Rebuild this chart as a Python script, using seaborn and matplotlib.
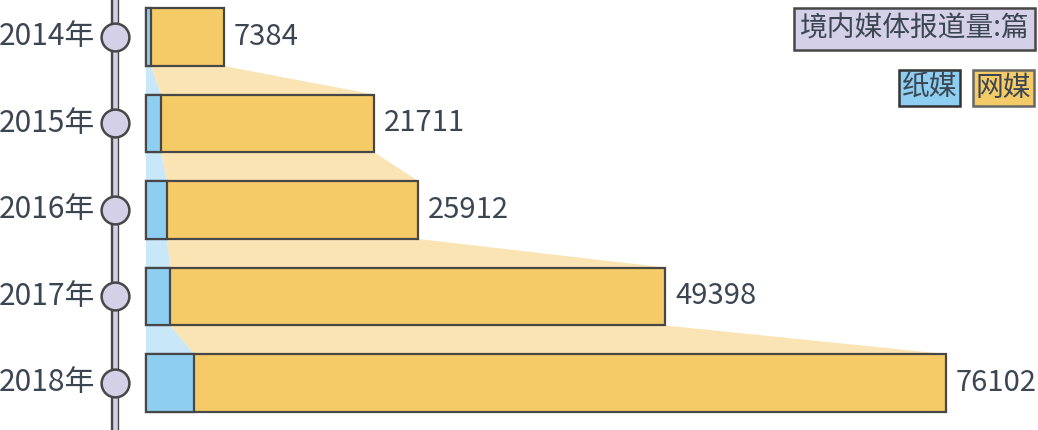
import numpy as np
import pandas as pd
import matplotlib
matplotlib.use("Agg")
import matplotlib.pyplot as plt
import seaborn as sns

# --- datos ---
years = ["2014年", "2015年", "2016年", "2017年", "2018年"]
total = [7384, 21711, 25912, 49398, 76102]
paper = [480, 1430, 2000, 2280, 4570]   # estimado desde la imagen

# --- estilo ---
sns.set_style("white")
plt.rcParams['font.family'] = ['Noto Sans CJK SC', 'DejaVu Sans']

C_WEB = "#f5cb67"
C_PAPER = "#8ecff1"
C_WEB_LIGHT = "#fae4b3"
C_PAPER_LIGHT = "#c8e7f8"
C_EDGE = "#474747"
C_TEXT = "#3b4652"
C_LAV = "#d4d0e8"

df = pd.DataFrame({"year": years, "total": total, "paper": paper})

fig = plt.figure(figsize=(10.38, 4.30), dpi=100)
ax = fig.add_axes([0, 0, 1, 1])

BAR_W = 0.67
sns.barplot(data=df, x="total", y="year", orient="h", color=C_WEB, width=BAR_W,
            edgecolor=C_EDGE, linewidth=1.6, saturation=1, ax=ax, zorder=3)
sns.barplot(data=df, x="paper", y="year", orient="h", color=C_PAPER, width=BAR_W,
            edgecolor=C_EDGE, linewidth=1.6, saturation=1, ax=ax, zorder=4)

# --- conectores entre barras ---
h = BAR_W / 2
for i in range(len(years) - 1):
    yb = i + h
    yt = i + 1 - h
    ax.fill([paper[i], total[i], total[i + 1], paper[i + 1]], [yb, yb, yt, yt],
            color=C_WEB_LIGHT, lw=0, zorder=1)
    ax.fill([0, paper[i], paper[i + 1], 0], [yb, yb, yt, yt],
            color=C_PAPER_LIGHT, lw=0, zorder=1)

# --- etiquetas de valor ---
for i, v in enumerate(total):
    ax.annotate(f"{v}", (v, i), xytext=(7, 0), textcoords="offset points",
                ha="left", va="center", fontsize=21, color=C_TEXT)

# escala: 0 -> 146 px, max -> 946 px
k = max(total) / 800
ax.set_xlim(-146 * k, (1038 - 146) * k)
sp = 86.5
ax.set_ylim((430 - 37) / sp, -37 / sp)
ax.axis("off")

# --- línea de tiempo ---
tr = ax.get_yaxis_transform()
xl = 115 / 1038
ax.plot([xl, xl], [-1, 6], transform=tr, color=C_EDGE, lw=6,
        solid_capstyle="butt", zorder=5)
ax.plot([xl, xl], [-1, 6], transform=tr, color=C_LAV, lw=3.3,
        solid_capstyle="butt", zorder=6)
ax.scatter([xl] * len(years), range(len(years)), transform=tr, s=400,
           color=C_LAV, edgecolor=C_EDGE, linewidth=1.8, zorder=7, clip_on=False)
for i, y in enumerate(years):
    ax.text(95 / 1038, i, y, transform=tr, ha="right", va="center",
            fontsize=21.5, color=C_TEXT)

# --- leyenda ---
fig.text(1029 / 1038, 1 - 29 / 430, "境内媒体报道量:篇", ha="right", va="center",
         fontsize=20, color=C_TEXT,
         bbox=dict(boxstyle="square,pad=0.2", fc=C_LAV, ec=C_EDGE, lw=1.8))
fig.text(1031 / 1038, 1 - 88 / 430, "网媒", ha="right", va="center",
         fontsize=20, color=C_TEXT,
         bbox=dict(boxstyle="square,pad=0.1", fc=C_WEB, ec="#666666", lw=1.8))
fig.text(957 / 1038, 1 - 88 / 430, "纸媒", ha="right", va="center",
         fontsize=20, color=C_TEXT,
         bbox=dict(boxstyle="square,pad=0.1", fc=C_PAPER, ec="#333333", lw=1.8))

fig.savefig("out.png", dpi=100)
